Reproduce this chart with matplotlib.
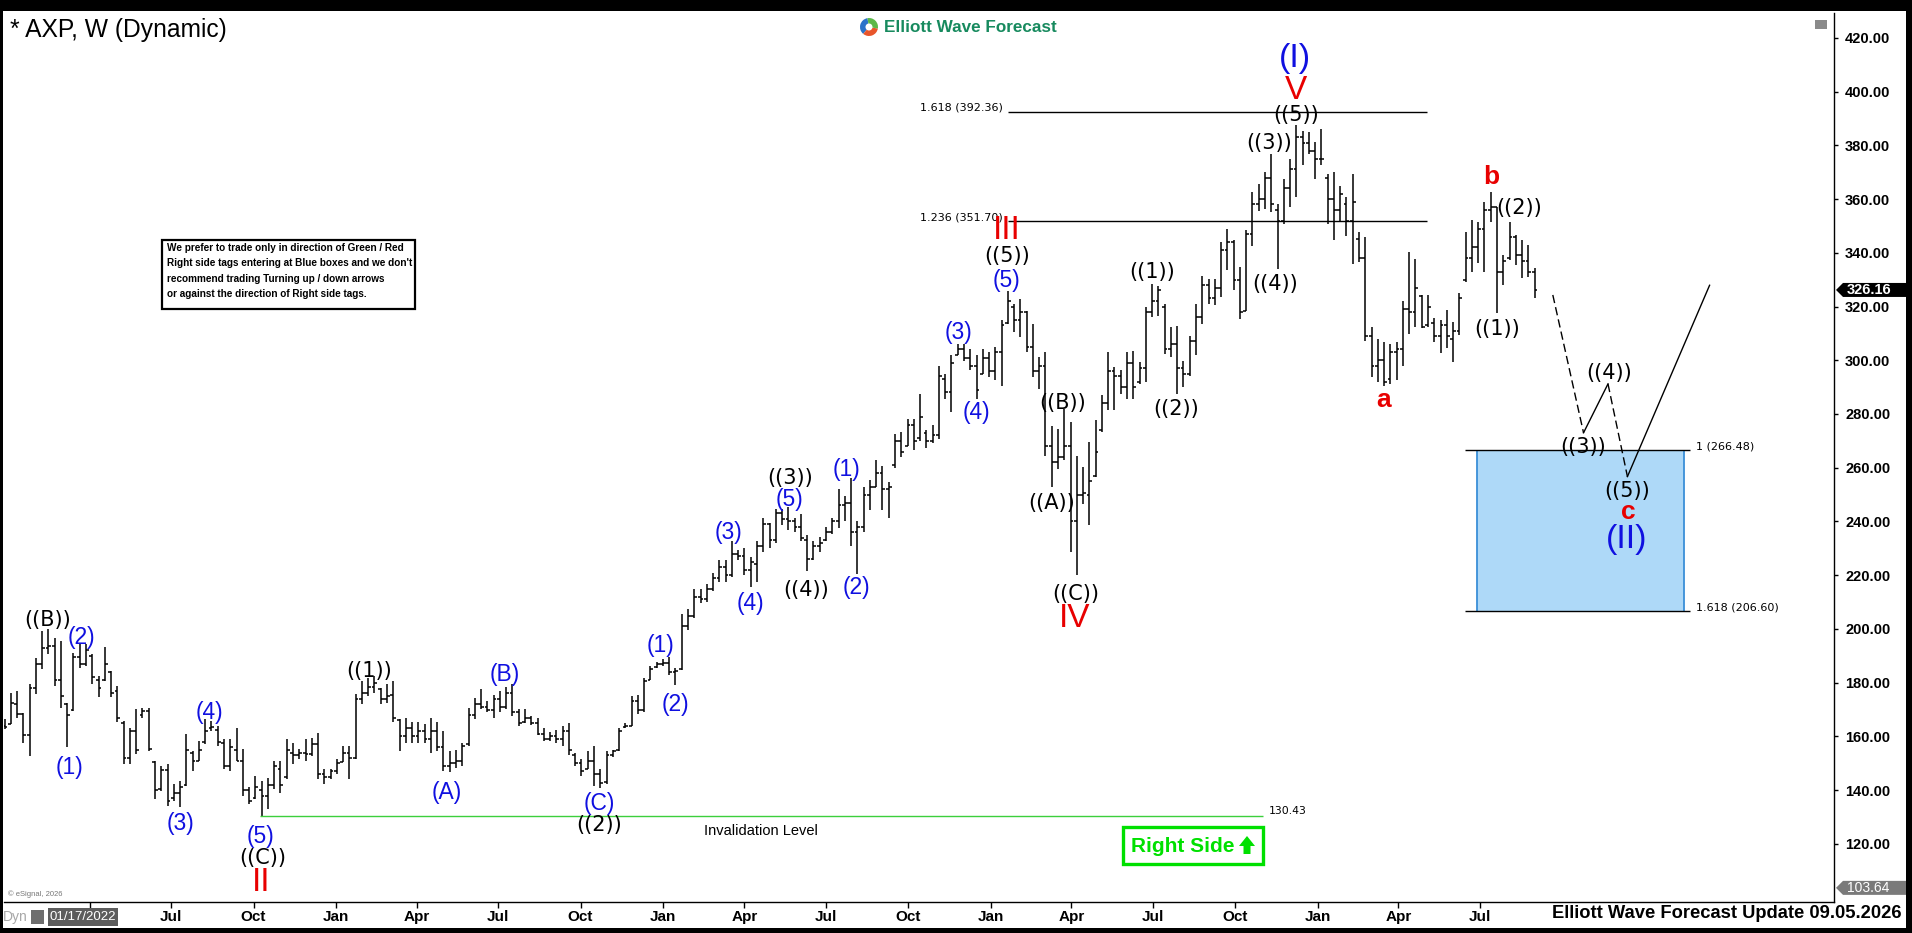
#!/usr/bin/env python3
"""
plot.py
Weekly AXP bar chart with Elliott Wave labels, saved as out.png (1912x933).
"""

import pandas as pd
import matplotlib
matplotlib.use("Agg")
import matplotlib.pyplot as plt
from matplotlib.patches import Rectangle, Polygon, Wedge
from matplotlib.transforms import IdentityTransform

# --- Data: weekly OHLC, one bar per week starting 2021-12-27 ---
first_week = "2021-12-27"

opens = [
    164.0, 164.5, 172.0, 168.5, 160.5, 178.0, 187.0, 193.0, 193.5, 181.0,
    172.0, 170.0, 189.5, 187.0, 190.0, 181.0, 181.0, 184.0, 177.0, 165.0,
    152.0, 162.0, 168.0, 169.5, 150.5, 140.5, 147.5, 137.0, 139.0, 142.0,
    154.0, 151.0, 158.0, 163.0, 162.5, 157.5, 149.0, 155.0, 151.0, 140.0,
    137.0, 140.0, 138.0, 142.0, 148.0, 145.0, 154.0, 153.0, 154.0, 153.5,
    157.0, 146.0, 145.0, 147.0, 150.5, 154.0, 152.0, 174.0, 176.0, 178.5,
    177.5, 174.0, 175.5, 166.0, 160.0, 163.0, 160.0, 162.0, 159.0, 162.0,
    156.0, 149.0, 150.0, 151.0, 157.0, 168.0, 172.0, 171.0, 170.0, 174.0,
    171.0, 176.0, 169.0, 165.5, 167.0, 165.0, 161.0, 159.0, 160.0, 159.0,
    162.0, 153.0, 150.0, 148.0, 151.0, 146.0, 143.0, 153.0, 155.0, 163.5,
    164.0, 173.0, 170.0, 181.0, 186.0, 187.0, 187.5, 184.0, 185.0, 201.0,
    205.0, 212.0, 211.0, 215.0, 219.0, 223.0, 220.0, 228.0, 227.0, 222.0,
    224.0, 231.0, 239.0, 233.0, 243.0, 241.0, 240.0, 238.0, 233.0, 226.0,
    231.0, 233.0, 236.0, 240.0, 246.0, 247.0, 236.0, 238.0, 250.0, 253.0,
    258.0, 252.0, 261.0, 270.0, 268.0, 276.0, 271.0, 273.0, 270.0, 272.0,
    293.0, 288.0, 302.0, 304.0, 301.0, 298.0, 295.0, 301.0, 296.0, 303.0,
    314.0, 320.0, 315.0, 318.0, 305.0, 296.0, 298.0, 268.0, 262.0, 264.0,
    268.0, 240.0, 250.0, 250.0, 257.0, 274.0, 284.0, 296.0, 294.0, 290.0,
    299.0, 292.0, 297.0, 318.0, 322.0, 320.0, 304.0, 306.0, 297.0, 295.0,
    307.0, 316.0, 328.0, 323.0, 327.0, 341.0, 344.0, 330.0, 318.5, 347.0,
    358.0, 360.0, 368.0, 356.0, 352.0, 364.0, 371.0, 383.0, 381.0, 378.0,
    375.0, 368.0, 360.0, 356.0, 358.0, 352.0, 345.0, 338.0, 309.0, 298.0,
    300.0, 293.0, 303.0, 304.0, 319.0, 318.0, 324.0, 313.0, 314.0, 309.0,
    313.0, 308.0, 311.0, 330.0, 338.0, 342.0, 349.0, 356.0, 357.0, 333.0,
    338.0, 346.0, 339.0, 337.0, 333.0,
]
highs = [
    166.4, 176.3, 176.9, 168.9, 179.4, 189.3, 199.3, 199.9, 196.8, 195.6,
    172.6, 191.2, 194.9, 194.3, 190.6, 182.5, 193.1, 184.4, 178.8, 165.8,
    163.3, 170.1, 170.7, 170.7, 150.9, 149.0, 149.7, 142.2, 143.5, 160.8,
    154.6, 158.3, 166.4, 165.8, 163.9, 159.0, 159.0, 163.3, 155.2, 141.0,
    145.3, 143.5, 144.7, 150.9, 150.9, 159.0, 157.7, 155.2, 159.0, 159.6,
    161.4, 147.8, 147.8, 151.5, 156.5, 156.5, 175.7, 180.7, 181.9, 182.5,
    178.2, 179.4, 180.7, 166.4, 167.0, 165.2, 165.2, 164.5, 167.0, 165.2,
    162.1, 154.6, 155.0, 157.7, 170.7, 174.3, 177.6, 173.0, 175.6, 177.0,
    178.3, 179.6, 170.3, 170.3, 167.7, 167.0, 163.0, 161.7, 162.3, 163.7,
    165.0, 153.7, 151.7, 154.4, 156.4, 147.7, 154.4, 155.0, 163.0, 165.0,
    175.0, 175.6, 181.6, 186.3, 187.6, 188.9, 189.6, 185.6, 205.5, 207.5,
    214.8, 214.8, 216.8, 220.8, 225.5, 225.5, 232.8, 229.5, 230.1, 226.8,
    232.8, 241.4, 239.4, 244.7, 244.7, 245.4, 241.4, 242.8, 234.8, 232.8,
    234.1, 238.1, 241.4, 252.0, 249.4, 256.0, 240.1, 252.7, 255.4, 262.7,
    260.7, 254.7, 272.7, 273.3, 278.0, 278.0, 287.3, 274.0, 276.0, 297.9,
    295.0, 301.8, 306.1, 306.1, 304.2, 301.8, 304.2, 303.0, 304.9, 314.8,
    325.9, 321.0, 322.8, 318.5, 313.5, 301.1, 303.0, 275.7, 274.5, 281.9,
    277.0, 264.5, 260.2, 269.5, 277.6, 286.9, 303.0, 297.4, 296.2, 303.0,
    303.6, 299.3, 319.7, 328.4, 327.8, 321.0, 312.3, 312.9, 299.9, 309.2,
    321.0, 331.5, 330.3, 330.3, 343.9, 348.9, 344.6, 334.6, 348.3, 362.5,
    365.6, 370.0, 376.8, 358.2, 367.5, 374.9, 387.4, 385.5, 384.9, 381.2,
    386.1, 369.4, 370.0, 365.0, 360.7, 369.4, 347.7, 345.8, 312.3, 308.0,
    306.7, 306.1, 306.7, 322.2, 340.2, 337.7, 324.3, 324.3, 315.6, 315.0,
    318.7, 314.3, 324.9, 347.8, 352.2, 351.6, 359.0, 362.7, 357.2, 339.1,
    351.6, 346.6, 344.7, 342.9, 334.2,
]
lows = [
    162.7, 164.5, 167.0, 157.7, 152.8, 175.7, 185.0, 190.6, 178.8, 170.7,
    155.9, 169.5, 185.6, 186.3, 179.4, 174.5, 180.7, 174.5, 165.2, 149.7,
    149.7, 153.4, 167.0, 154.6, 136.6, 139.7, 134.1, 136.0, 133.9, 141.6,
    147.2, 150.9, 157.1, 162.1, 156.5, 147.8, 147.2, 150.9, 137.9, 134.8,
    136.6, 130.4, 132.9, 140.3, 139.1, 144.1, 149.7, 151.5, 150.9, 152.8,
    144.1, 142.2, 144.1, 145.9, 150.3, 144.1, 151.5, 172.0, 175.1, 176.3,
    172.0, 172.6, 165.2, 154.6, 157.7, 157.7, 157.7, 157.7, 154.0, 154.6,
    147.2, 146.6, 148.4, 149.0, 156.5, 166.3, 170.3, 169.0, 167.0, 169.0,
    170.3, 167.7, 163.7, 165.0, 164.3, 160.4, 158.4, 158.4, 157.7, 156.4,
    153.0, 149.0, 145.1, 147.7, 141.7, 140.9, 142.4, 152.4, 154.4, 163.0,
    163.7, 168.3, 169.0, 180.9, 185.6, 186.3, 183.0, 179.0, 184.9, 199.6,
    204.2, 209.5, 210.2, 214.2, 217.5, 217.5, 219.5, 225.5, 220.2, 215.5,
    217.5, 228.8, 230.1, 232.1, 238.8, 236.8, 236.1, 232.8, 221.5, 225.5,
    228.8, 232.8, 235.4, 237.4, 240.1, 230.8, 220.5, 236.1, 244.1, 252.7,
    244.1, 241.4, 260.0, 264.0, 268.0, 266.7, 270.0, 267.3, 269.3, 270.7,
    285.6, 280.7, 301.8, 299.9, 296.2, 285.6, 294.9, 293.7, 292.5, 290.6,
    313.5, 310.4, 308.6, 303.0, 293.7, 289.4, 264.5, 252.8, 259.6, 262.7,
    228.6, 219.9, 246.6, 238.5, 256.5, 273.2, 281.3, 281.3, 287.5, 285.6,
    285.6, 291.2, 291.8, 316.0, 316.6, 302.4, 301.1, 287.5, 290.0, 294.3,
    301.8, 313.5, 321.0, 320.4, 323.5, 333.4, 326.0, 315.4, 318.5, 342.7,
    355.7, 356.3, 355.1, 334.0, 350.8, 357.0, 360.7, 372.5, 376.8, 367.5,
    372.5, 350.8, 344.6, 351.4, 346.4, 335.9, 336.5, 307.3, 293.7, 291.8,
    290.6, 291.2, 292.5, 298.0, 309.8, 312.3, 311.9, 312.5, 306.9, 302.6,
    304.4, 299.5, 309.4, 329.2, 333.0, 336.1, 333.0, 351.6, 317.4, 328.0,
    337.3, 335.4, 330.5, 331.1, 323.0,
]
closes = [
    163.6, 172.5, 168.5, 160.5, 178.0, 187.0, 193.0, 193.5, 181.0, 175.0,
    168.0, 189.5, 187.0, 192.0, 182.0, 178.0, 187.0, 176.0, 167.0, 152.0,
    162.0, 155.0, 169.5, 155.5, 140.0, 147.5, 136.0, 139.0, 141.0, 155.0,
    151.0, 155.0, 162.0, 163.5, 158.0, 149.0, 156.0, 151.0, 140.0, 136.0,
    141.0, 138.0, 142.0, 149.0, 142.0, 155.0, 153.0, 154.0, 153.5, 157.0,
    146.0, 145.0, 147.0, 150.0, 154.0, 152.0, 174.0, 176.0, 178.5, 180.0,
    174.0, 175.0, 167.0, 160.0, 163.0, 160.0, 162.0, 159.0, 162.0, 156.0,
    149.0, 150.0, 151.0, 156.5, 168.0, 172.0, 171.0, 170.0, 174.0, 171.0,
    176.0, 169.0, 165.0, 167.0, 165.0, 161.0, 159.0, 160.0, 159.0, 162.0,
    155.0, 150.0, 147.0, 151.0, 146.0, 142.5, 153.0, 154.5, 162.0, 164.0,
    173.0, 170.0, 180.5, 185.0, 187.0, 187.5, 184.0, 184.5, 201.0, 205.0,
    212.0, 211.0, 215.0, 219.0, 223.0, 220.0, 228.0, 227.0, 222.0, 225.0,
    231.0, 239.0, 233.0, 243.0, 241.0, 240.0, 238.0, 234.0, 226.0, 231.0,
    232.0, 236.0, 240.0, 246.0, 247.0, 236.0, 238.0, 250.0, 253.0, 258.0,
    252.0, 253.0, 270.0, 266.0, 276.0, 270.0, 279.0, 270.0, 272.0, 294.0,
    288.0, 299.0, 304.0, 301.0, 298.0, 289.0, 301.0, 296.0, 303.0, 313.0,
    322.0, 315.0, 318.0, 305.0, 296.0, 298.0, 268.0, 262.0, 264.0, 268.0,
    240.0, 250.0, 250.5, 255.0, 266.0, 284.0, 296.0, 294.0, 290.0, 299.0,
    290.0, 297.0, 318.0, 322.0, 326.0, 304.0, 306.0, 297.0, 295.0, 307.0,
    316.0, 328.0, 323.0, 327.0, 341.0, 344.0, 330.0, 318.0, 347.0, 358.0,
    360.0, 368.0, 358.0, 352.0, 364.0, 371.0, 383.0, 381.0, 378.0, 375.0,
    375.0, 360.0, 356.0, 362.0, 352.0, 359.0, 338.0, 309.0, 298.0, 300.0,
    292.0, 303.0, 304.0, 319.0, 318.0, 327.0, 312.5, 320.0, 309.0, 313.0,
    309.0, 311.0, 323.0, 338.0, 342.0, 349.0, 356.0, 357.0, 333.0, 337.0,
    346.0, 339.0, 337.0, 333.0, 326.16,
]
last_price = 326.16
scale_low = 103.64

# wave labels: text, week index, price, kind
wave_text = ["((B))", "(2)", "(1)", "(3)", "(4)", "(5)", "((C))", "II",
             "((1))", "(A)", "(B)", "(C)", "((2))",
             "(1)", "(2)", "(3)", "(4)", "((3))", "(5)", "((4))", "(1)", "(2)",
             "(3)", "(4)", "(5)", "((5))", "III",
             "((B))", "((A))", "((C))", "IV",
             "((1))", "((2))", "((3))", "((4))", "((5))", "V", "(I)",
             "a", "b", "((2))", "((1))",
             "((4))", "((3))", "((5))", "c", "(II)"]
wave_week = [6.8, 12.3, 10.3, 28.0, 32.7, 40.9, 41.2, 40.9,
             58.2, 70.6, 79.8, 94.9, 94.9,
             104.6, 107.0, 115.5, 119.0, 125.2, 125.2, 127.8, 134.2, 135.9,
             152.1, 155.0, 159.8, 159.9, 159.9,
             168.8, 166.9, 170.8, 170.6,
             183.0, 186.9, 201.7, 202.6, 205.9, 205.9, 205.8,
             219.9, 237.1, 241.5, 238.0,
             255.9, 251.8, 258.8, 259.0, 258.6]
wave_price = [203.5, 196.7, 148.6, 127.6, 169.0, 122.8, 114.8, 105.6,
              184.3, 139.0, 183.0, 135.0, 127.0,
              194.0, 172.0, 236.0, 209.5, 256.0, 248.0, 214.5, 259.5, 215.5,
              310.3, 280.7, 329.6, 338.8, 348.2,
              284.2, 246.8, 213.1, 204.0,
              333.0, 281.8, 381.0, 328.4, 391.4, 400.5, 412.3,
              285.2, 368.2, 356.7, 311.6,
              295.2, 267.6, 251.2, 243.4, 233.2]
wave_kind = ["black", "blue", "blue", "blue", "blue", "blue", "black", "red",
             "black", "blue", "blue", "blue", "black",
             "blue", "blue", "blue", "blue", "black", "blue", "black", "blue", "blue",
             "blue", "blue", "blue", "black", "red",
             "black", "black", "black", "red",
             "black", "black", "black", "black", "black", "red", "bigblue",
             "redsmall", "redsmall", "black", "black",
             "black", "black", "black", "redsmall", "bigblue"]

# fibonacci extensions
fib_levels = [392.36, 351.70]
fib_names = ["1.618 (392.36)", "1.236 (351.70)"]
target_levels = [266.48, 206.60]
target_names = ["1 (266.48)", "1.618 (206.60)"]
invalidation = 130.43

# projected path after the last bar (week index, price)
path_week = [246.9, 251.8, 255.7, 258.8, 271.9]
path_price = [324.3, 273.0, 291.2, 256.7, 327.9]
path_dashed = [True, False, True, False]

price_ticks = list(range(120, 421, 20))
tick_dates = pd.date_range("2022-04-01", "2026-07-01", freq="QS")

note_lines = ["We prefer to trade only in direction of Green / Red",
              "Right side tags entering at Blue boxes and we don't",
              "recommend trading Turning up / down arrows",
              "or against the direction of Right side tags."]

# --- Figure ---
W, H, DPI = 1912, 933, 100
plt.rcParams["font.family"] = ["Liberation Sans", "DejaVu Sans"]
NARROW = ["Liberation Sans Narrow", "Liberation Sans", "DejaVu Sans"]
BLUE = "#1010e0"
RED = "#e80000"
GREEN = "#00e000"

fig = plt.figure(figsize=(W / DPI, H / DPI), dpi=DPI, facecolor="white")
PX = IdentityTransform()   # pixel coords, origin at bottom-left


def top(y):
    return H - y


ax = fig.add_axes([4 / W, (H - 902) / H, (1834 - 4) / W, (902 - 13) / H])
ax.set_xlim(-0.08, 291.74)
ax.set_ylim(98.38, 429.23)

start = pd.Timestamp(first_week)
weeks = list(range(len(highs)))
ax.vlines(weeks, lows, highs, color="black", lw=1.1)
ax.hlines(opens, [w - 0.45 for w in weeks], weeks, color="black", lw=1.1)
ax.hlines(closes, weeks, [w + 0.45 for w in weeks], color="black", lw=1.1)

# fib lines
for lvl, name in zip(fib_levels, fib_names):
    ax.hlines(lvl, 160.0, 226.9, color="black", lw=1.0)
    ax.text(159.2, lvl + 1.6, name, ha="right", va="center", fontsize=8,
            family="DejaVu Sans")
for lvl, name in zip(target_levels, target_names):
    ax.hlines(lvl, 232.9, 268.8, color="black", lw=1.0, zorder=3)
    ax.text(269.7, lvl + 1.4, name, ha="left", va="center", fontsize=8,
            family="DejaVu Sans")
ax.add_patch(Rectangle((234.8, target_levels[1]), 33.0,
                       target_levels[0] - target_levels[1],
                       facecolor="#aed9f8", edgecolor="none", zorder=1))
ax.vlines([234.8, 267.8], target_levels[1], target_levels[0],
          color="#3a8fd8", lw=1.3, zorder=2)

# invalidation level
ax.hlines(invalidation, 40.7, 200.7, color="#3ccf3c", lw=1.0)
ax.text(201.6, invalidation + 1.9, f"{invalidation:.2f}", ha="left",
        va="center", fontsize=7.8, family="DejaVu Sans")
ax.text(120.6, invalidation - 5.6, "Invalidation Level", ha="center",
        va="center", fontsize=10.5)

# projected path
for i, dashed in enumerate(path_dashed):
    ax.plot(path_week[i:i + 2], path_price[i:i + 2], color="black", lw=1.0,
            ls=(0, (6, 3)) if dashed else "-")

styles = {
    "black": dict(color="black", fontsize=15, family="DejaVu Sans"),
    "blue": dict(color=BLUE, fontsize=16.5),
    "red": dict(color=RED, fontsize=24),
    "redsmall": dict(color=RED, fontsize=19, fontweight="bold"),
    "bigblue": dict(color=BLUE, fontsize=24.5),
}
for txt, wk, pr, kind in zip(wave_text, wave_week, wave_price, wave_kind):
    ax.text(wk, pr, txt, ha="center", va="center", zorder=5, **styles[kind])

# axes look
for side in ("top", "left"):
    ax.spines[side].set_visible(False)
ax.spines["right"].set_linewidth(1.0)
ax.spines["bottom"].set_linewidth(1.0)
ax.yaxis.tick_right()
ax.set_yticks(price_ticks)
ax.set_yticklabels([f"{v:.2f}" for v in price_ticks], fontweight="bold",
                   fontsize=10.5)
ax.tick_params(axis="y", length=3, pad=5, width=1)
tick_pos = [(d - start).days / 7 for d in tick_dates]
ax.set_xticks(tick_pos)
# the first quarter label sits under the date box, so it is left blank
ax.set_xticklabels([""] + [d.strftime("%b") for d in tick_dates[1:]],
                   fontweight="bold", fontsize=11, family=NARROW)
ax.tick_params(axis="x", length=4, pad=2, width=1)

# right side price markers
y_last = ax.transData.transform((0, last_price))[1]
fig.add_artist(Polygon([(1836, y_last), (1843, y_last + 7), (1906, y_last + 7),
                        (1906, y_last - 7), (1843, y_last - 7)],
                       closed=True, facecolor="black", edgecolor="none",
                       transform=PX, zorder=4))
fig.text(1847, y_last, f"{last_price:.2f}", color="white", fontweight="bold",
         fontsize=10.5, va="center", ha="left", transform=PX, zorder=5)
y_low = ax.transData.transform((0, scale_low))[1]
fig.add_artist(Polygon([(1836, y_low), (1843, y_low + 7), (1906, y_low + 7),
                        (1906, y_low - 7), (1843, y_low - 7)],
                       closed=True, facecolor="#7a7a7a", edgecolor="none",
                       transform=PX, zorder=4))
fig.text(1847, y_low, f"{scale_low:.2f}", color="white", fontsize=10,
         family=NARROW, va="center", ha="left", transform=PX, zorder=5)

# --- Frame and header ---
for x0, y0, w, h in [(0, 0, W, 11), (0, 0, 3, H), (W - 6, 0, 6, H),
                     (0, H - 5, W, 5)]:
    fig.add_artist(Rectangle((x0, top(y0 + h)), w, h, facecolor="black",
                             edgecolor="none", transform=PX, zorder=6))

fig.text(10, top(30), "* AXP, W (Dynamic)", fontsize=17.7, va="center",
         ha="left", transform=PX)

# logo
for a0, a1, col in [(100, 230, "#2a73c9"), (230, 350, "#e8552b"),
                    (-10, 100, "#5cb848")]:
    fig.add_artist(Wedge((869, top(27)), 9, a0, a1, facecolor=col,
                         edgecolor="none", transform=PX))
fig.add_artist(Wedge((869, top(27)), 3.5, 0, 360, facecolor="white",
                     edgecolor="none", transform=PX))
fig.text(884, top(27), "Elliott Wave Forecast", color="#178a5e",
         fontweight="bold", fontsize=12.3, va="center", ha="left",
         transform=PX)

fig.add_artist(Rectangle((1815, top(29)), 12, 9, facecolor="#8a8a8a",
                         edgecolor="none", transform=PX))

# note box
fig.add_artist(Rectangle((162, top(309)), 253, 69, facecolor="white",
                         edgecolor="black", lw=1.6, transform=PX))
for i, line in enumerate(note_lines):
    fig.text(167, top(248 + i * 15.3), line, fontsize=7.2, fontweight="bold",
             va="center", ha="left", transform=PX)

# right side tag
fig.add_artist(Rectangle((1123, top(864)), 140, 37, facecolor="white",
                         edgecolor=GREEN, lw=2.4, transform=PX))
fig.text(1131, top(846), "Right Side", color=GREEN, fontweight="bold",
         fontsize=15, va="center", ha="left", transform=PX)
fig.add_artist(Polygon([(1239, top(846)), (1247, top(836)), (1255, top(846)),
                        (1250.5, top(846)), (1250.5, top(854)),
                        (1243.5, top(854)), (1243.5, top(846))],
                       closed=True, facecolor=GREEN, edgecolor="none",
                       transform=PX))

# footer
fig.text(8, top(894), "\u00a9 eSignal, 2026", fontsize=5.5, color="#777777",
         va="center", ha="left", transform=PX)
fig.text(3, top(917), "Dyn", fontsize=10, color="#a8a8a8", family=NARROW,
         va="center", ha="left", transform=PX)
fig.add_artist(Rectangle((31, top(924)), 13, 14, facecolor="#6e6e6e",
                         edgecolor="none", transform=PX))
fig.add_artist(Rectangle((48, top(926)), 70, 18, facecolor="#5c5c5c",
                         edgecolor="none", transform=PX))
fig.text(83, top(917), "01/17/2022", fontsize=9.5, color="white",
         family=NARROW, va="center", ha="center", transform=PX)
fig.text(1902, top(914), "Elliott Wave Forecast Update 09.05.2026",
         fontsize=13.2, fontweight="bold", family=NARROW, va="center",
         ha="right", transform=PX)

fig.savefig("out.png", dpi=DPI, facecolor="white")
